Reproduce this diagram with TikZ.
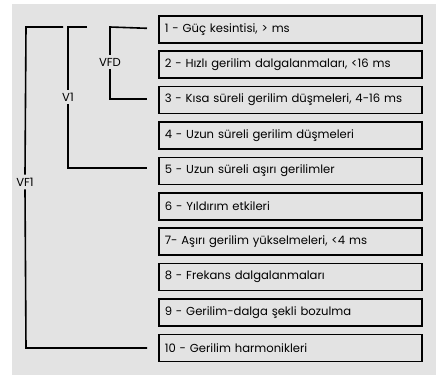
\documentclass[tikz,border=0pt]{standalone}
\usepackage{fontspec}
\setmainfont{Poppins}
\begin{document}
\begin{tikzpicture}[x=1pt,y=-1pt,
  itembox/.style={draw=black,line width=1.6pt,fill=bgray,minimum width=263pt,minimum height=27pt,anchor=north west,inner sep=0pt,
    text width=251pt,align=left,font=\fontsize{11.6}{13}\selectfont},
  lbl/.style={inner sep=0pt,font=\fontsize{11.6}{13}\selectfont},
  conn/.style={line width=1.6pt}]
\definecolor{bgray}{HTML}{E3E3E3}
\useasboundingbox (0,0) rectangle (440,375);
\fill[bgray] (12,4) rectangle (436,375);
\foreach \i/\t in {1/{1 - Güç kesintisi, > ms},2/{2 - Hızlı gerilim dalgalanmaları, <16 ms},3/{3 - Kısa süreli gerilim düşmeleri, 4-16 ms},4/{4 - Uzun süreli gerilim düşmeleri},5/{5 - Uzun süreli aşırı gerilimler},6/{6 - Yıldırım etkileri},7/{7- Aşırı gerilim yükselmeleri, <4 ms},8/{8 - Frekans dalgalanmaları},9/{9 - Gerilim-dalga şekli bozulma},10/{10 - Gerilim harmonikleri}}{
  \node[itembox] (b\i) at (158,{15+(\i-1)*35.4}) {\t};
}
\node[lbl] (vfd) at (110,62) {VFD};
\node[lbl] (v1) at (68,97) {V1};
\node[lbl] (vf1) at (25,182) {VF1};
% VFD
\coordinate (vfdtop) at (110,27);
\coordinate (vfdbot) at (110,99);
\draw[conn] (b1.west) ++(-11,-1) -- (vfdtop) -- ([yshift=3pt]vfd.north);
\draw[conn] ([yshift=-3pt]vfd.south) -- (vfdbot) -- ++(37,0);
% V1
\coordinate (v1top) at (68,27);
\coordinate (v1end) at (87,27);
\coordinate (v1bot) at (68,168);
\draw[conn] (v1end) -- (v1top) -- ([yshift=3pt]v1.north);
\draw[conn] ([yshift=-3pt]v1.south) -- (v1bot) -- ++(79,0);
% VF1
\coordinate (vf1top) at (26,27);
\coordinate (vf1end) at (63,27);
\coordinate (vf1bot) at (26,348);
\draw[conn] (vf1end) -- (vf1top) -- ([yshift=3pt]vf1.north);
\draw[conn] ([yshift=-3pt]vf1.south) -- (vf1bot) -- ++(121,0);
\end{tikzpicture}
\end{document}
